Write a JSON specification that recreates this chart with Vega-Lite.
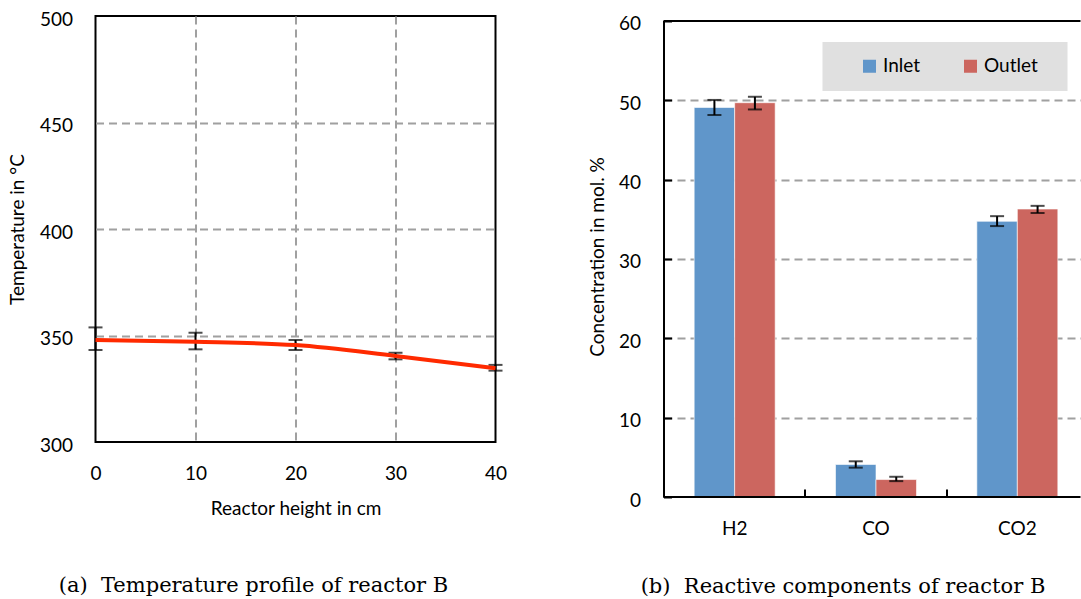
{
  "$schema": "https://vega.github.io/schema/vega-lite/v6.json",
  "padding": {"left": 6.5, "top": 9, "right": 0, "bottom": 0},
  "background": "white",
  "config": {
    "font": "Lato",
    "axis": {
      "labelFont": "Lato", "titleFont": "Lato",
      "labelFontSize": 19, "titleFontSize": 19, "titleFontWeight": "normal",
      "labelColor": "black", "titleColor": "black",
      "gridColor": "#A0A0A0", "gridDash": [8, 5], "gridWidth": 2,
      "domainColor": "black", "domainWidth": 2,
      "tickColor": "black", "tickWidth": 2,
      "labelFlush": false
    }
  },
  "resolve": {"legend": {"color": "independent"}},
  "spacing": 79,
  "hconcat": [
    {
      "width": 400,
      "height": 426,
      "view": {"stroke": "black", "strokeWidth": 2},
      "title": {"text": "(a)\u00a0 Temperature profile of reactor B", "orient": "bottom", "anchor": "middle", "frame": "group", "dx": -42, "offset": 57, "font": "DejaVu Serif", "fontSize": 21, "fontWeight": "normal", "color": "black"},
      "data": {"values": [
        {"h": 0, "t": 347.9, "lo": 343.2, "hi": 353.8},
        {"h": 10, "t": 347.1, "lo": 343.5, "hi": 351.3},
        {"h": 20, "t": 345.5, "lo": 343.2, "hi": 347.9},
        {"h": 30, "t": 340.4, "lo": 338.8, "hi": 341.9},
        {"h": 40, "t": 334.6, "lo": 333.5, "hi": 336.2}
      ]},
      "encoding": {
        "x": {"field": "h", "type": "quantitative", "scale": {"domain": [0, 40], "nice": false},
          "axis": {"values": [0, 10, 20, 30, 40], "title": "Reactor height in cm", "labelPadding": 22, "titlePadding": 16, "ticks": false, "domain": false, "grid": true,
            "gridOpacity": {"condition": {"test": "datum.value == 0 || datum.value == 40", "value": 0}, "value": 1}}}
      },
      "layer": [
        {
          "mark": {"type": "rule", "color": "black", "strokeWidth": 2},
          "encoding": {
            "y": {"field": "lo", "type": "quantitative", "scale": {"domain": [300, 500], "nice": false, "zero": false},
              "axis": {"values": [300, 350, 400, 450, 500], "title": "Temperature in °C", "labelPadding": 23, "labelOffset": 3, "titlePadding": 12, "ticks": false, "domain": false, "grid": true,
                "gridOpacity": {"condition": {"test": "datum.value == 300 || datum.value == 500", "value": 0}, "value": 1}}},
            "y2": {"field": "hi"}
          }
        },
        {
          "mark": {"type": "tick", "orient": "horizontal", "color": "black", "size": 14, "thickness": 2},
          "encoding": {"y": {"field": "lo", "type": "quantitative"}}
        },
        {
          "mark": {"type": "tick", "orient": "horizontal", "color": "black", "size": 14, "thickness": 2},
          "encoding": {"y": {"field": "hi", "type": "quantitative"}}
        },
        {
          "mark": {"type": "line", "color": "#FF2A00", "strokeWidth": 4, "interpolate": "monotone"},
          "encoding": {"y": {"field": "t", "type": "quantitative"}}
        }
      ]
    },
    {
      "width": 417,
      "height": 481,
      "view": {"stroke": null},
      "data": {"values": [
        {"g": "H2", "s": "Inlet", "v": 49.1, "lo": 48.15, "hi": 50.05},
        {"g": "H2", "s": "Outlet", "v": 49.7, "lo": 48.85, "hi": 50.45},
        {"g": "CO", "s": "Inlet", "v": 4.1, "lo": 3.7, "hi": 4.5},
        {"g": "CO", "s": "Outlet", "v": 2.2, "lo": 2.0, "hi": 2.55},
        {"g": "CO2", "s": "Inlet", "v": 34.75, "lo": 34.15, "hi": 35.4},
        {"g": "CO2", "s": "Outlet", "v": 36.3, "lo": 35.8, "hi": 36.7}
      ]},
      "layer": [
        {
          "mark": {"type": "bar", "stroke": "white", "strokeOpacity": 0.6, "strokeWidth": 1},
          "encoding": {
            "x": {"field": "g", "type": "nominal", "sort": ["H2", "CO", "CO2"],
              "scale": {"domain": ["H2", "CO", "CO2"], "range": [0.5, 424.5], "paddingInner": 0, "paddingOuter": 0},
              "axis": {"title": "(b)\u00a0 Reactive components of reactor B", "titleFont": "DejaVu Serif", "titleFontSize": 21, "titleX": 179, "titleY": 78, "titleBaseline": "top", "titleAlign": "center", "titleAngle": 0,
                "labelAngle": 0, "labelPadding": 30, "domain": false, "ticks": true, "tickSize": -8, "bandPosition": 0, "tickExtra": false, "grid": false}},
            "xOffset": {"field": "s", "type": "nominal", "scale": {"paddingInner": 0, "paddingOuter": 0.745}},
            "y": {"field": "v", "type": "quantitative", "scale": {"domain": [0, 60.63], "nice": false},
              "axis": {"values": [0, 10, 20, 30, 40, 50, 60], "title": "Concentration in mol. %", "labelPadding": 31, "labelOffset": 3, "titlePadding": 11, "ticks": true, "tickSize": -8, "domain": false, "grid": true,
                "gridOpacity": {"condition": {"test": "datum.value == 0 || datum.value == 60", "value": 0}, "value": 1}}},
            "color": {"field": "s", "type": "nominal", "scale": {"domain": ["Inlet", "Outlet"], "range": ["#6096CA", "#CC665F"]},
              "legend": {"orient": "none", "legendX": 159, "legendY": 26, "direction": "horizontal", "fillColor": "#E0E0E0", "padding": 14.5,
                "title": "\u00a0", "titleOrient": "left", "titlePadding": 23, "titleFontSize": 19,
                "symbolType": "square", "symbolSize": 169, "symbolStrokeWidth": 0, "symbolOpacity": 1,
                "labelFont": "Lato", "labelFontSize": 19, "labelColor": "black", "labelOffset": 4, "columnPadding": 40,
                "labelExpr": "datum.label == 'Outlet' ? 'Outlet\u200a\u2800' : datum.label"}}
          }
        },
        {
          "mark": {"type": "rule", "color": "black", "strokeWidth": 2},
          "encoding": {
            "x": {"field": "g", "type": "nominal"},
            "xOffset": {"field": "s", "type": "nominal"},
            "y": {"field": "lo", "type": "quantitative"},
            "y2": {"field": "hi"}
          }
        },
        {
          "mark": {"type": "tick", "orient": "horizontal", "color": "black", "size": 14, "thickness": 2},
          "encoding": {
            "x": {"field": "g", "type": "nominal"},
            "xOffset": {"field": "s", "type": "nominal"},
            "y": {"field": "lo", "type": "quantitative"}
          }
        },
        {
          "mark": {"type": "tick", "orient": "horizontal", "color": "black", "size": 14, "thickness": 2},
          "encoding": {
            "x": {"field": "g", "type": "nominal"},
            "xOffset": {"field": "s", "type": "nominal"},
            "y": {"field": "hi", "type": "quantitative"}
          }
        },
        {
          "data": {"values": [{"edge": 60}, {"edge": 0}]},
          "mark": {"type": "rule", "color": "black", "strokeWidth": 2},
          "encoding": {"y": {"field": "edge", "type": "quantitative"}}
        },
        {
          "data": {"values": [{"g": "H2", "a": 0, "b": 60}]},
          "mark": {"type": "rule", "color": "black", "strokeWidth": 2},
          "encoding": {
            "x": {"field": "g", "type": "nominal", "bandPosition": 0},
            "y": {"field": "a", "type": "quantitative"},
            "y2": {"field": "b"}
          }
        }
      ]
    }
  ]
}
